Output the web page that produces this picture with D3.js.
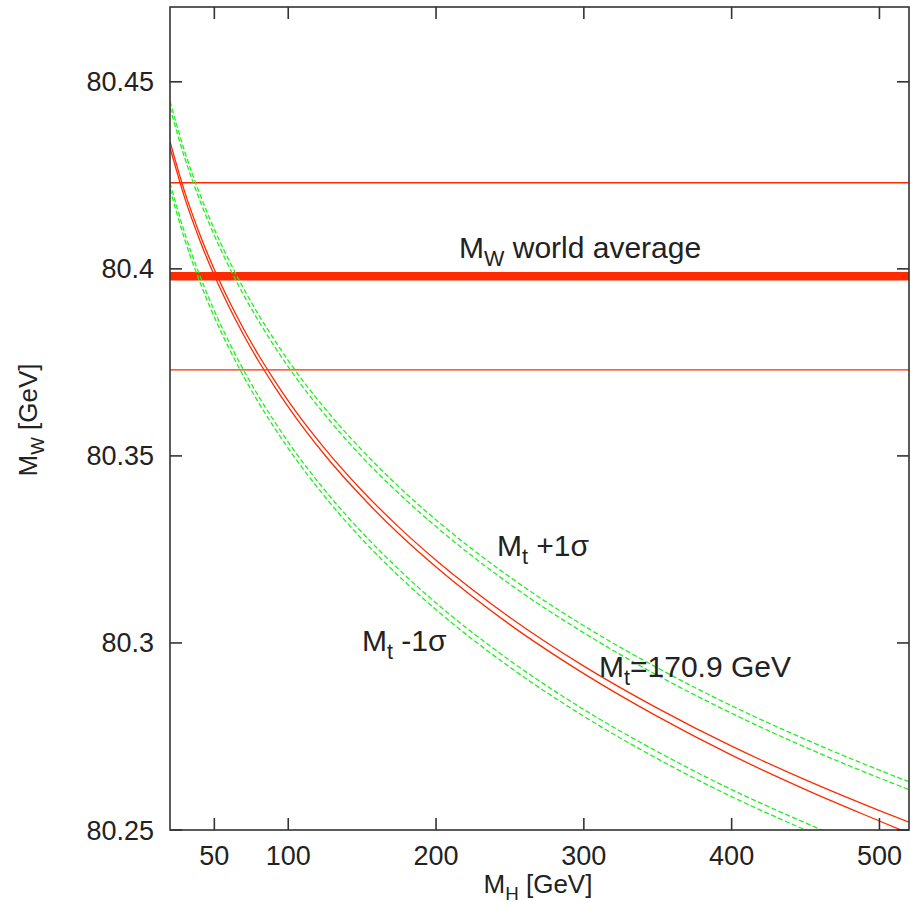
<!DOCTYPE html>
<html>
<head>
<meta charset="utf-8">
<script src="https://cdn.jsdelivr.net/npm/d3@7"></script>
<style>
  body { margin: 0; background: #fff; }
  svg { font-family: "Liberation Sans", Arial, sans-serif; }
</style>
</head>
<body>
<div id="chart"></div>
<script>
// Higgs mass (GeV) sample points along the curves
const MH = [20, 30, 40, 50, 60, 70, 80, 90, 100, 125, 150, 175, 200, 250, 300, 350, 400, 450, 500, 520];

// M_t = 170.9 GeV band (two red lines)
const MW_CENTRAL_HI = [80.4340, 80.4205, 80.4094, 80.3998, 80.3914, 80.3838, 80.3769, 80.3706, 80.3647, 80.3518,
                       80.3407, 80.3309, 80.3221, 80.3068, 80.2938, 80.2825, 80.2724, 80.2634, 80.2552, 80.2521];
const MW_CENTRAL_LO = [80.4324, 80.4189, 80.4078, 80.3982, 80.3898, 80.3822, 80.3753, 80.3690, 80.3631, 80.3501,
                       80.3390, 80.3291, 80.3203, 80.3049, 80.2918, 80.2803, 80.2700, 80.2608, 80.2524, 80.2491];

// M_t + 1 sigma (green dashed pair)
const MW_PLUS_HI = [80.4448, 80.4313, 80.4202, 80.4106, 80.4022, 80.3946, 80.3877, 80.3814, 80.3755, 80.3626,
                    80.3515, 80.3417, 80.3329, 80.3176, 80.3046, 80.2933, 80.2832, 80.2742, 80.2660, 80.2629];
const MW_PLUS_LO = [80.4431, 80.4296, 80.4185, 80.4089, 80.4005, 80.3929, 80.3860, 80.3797, 80.3738, 80.3609,
                    80.3497, 80.3399, 80.3311, 80.3157, 80.3027, 80.2913, 80.2812, 80.2721, 80.2639, 80.2608];

// M_t - 1 sigma (green dashed pair)
const MW_MINUS_HI = [80.4230, 80.4095, 80.3984, 80.3888, 80.3804, 80.3728, 80.3659, 80.3596, 80.3537, 80.3407,
                     80.3295, 80.3196, 80.3107, 80.2953, 80.2822, 80.2709, 80.2608, 80.2519, 80.2436, 80.2404];
const MW_MINUS_LO = [80.4213, 80.4078, 80.3967, 80.3871, 80.3787, 80.3711, 80.3642, 80.3579, 80.3520, 80.3390,
                     80.3277, 80.3178, 80.3089, 80.2935, 80.2804, 80.2690, 80.2589, 80.2500, 80.2417, 80.2385];

// world average of M_W and its error
const MW_AVG = 80.398;
const MW_ERR = 0.025;

const X_TICKS = [50, 100, 200, 300, 400, 500];
const Y_TICKS = [80.25, 80.3, 80.35, 80.4, 80.45];
const Y_TICK_LABELS = ['80.25', '80.3', '80.35', '80.4', '80.45'];

const W = 911, H = 908;
const margin = { top: 7, right: 2, bottom: 78, left: 170 };

const svg = d3.select('#chart').append('svg')
  .attr('width', W).attr('height', H);

const x = d3.scaleLinear().domain([20, 520]).range([margin.left, W - margin.right]);
const y = d3.scaleLinear().domain([80.25, 80.47]).range([H - margin.bottom, margin.top]);

const RED = '#ff2a00';
const GREEN = '#22f022';
const AXIS = '#333';

svg.append('clipPath').attr('id', 'clip')
  .append('rect')
  .attr('x', x(20)).attr('y', y(80.47))
  .attr('width', x(520) - x(20)).attr('height', y(80.25) - y(80.47));

const plot = svg.append('g').attr('clip-path', 'url(#clip)');

// horizontal lines: world average and +- 1 sigma
plot.append('line')
  .attr('x1', x(20)).attr('x2', x(520))
  .attr('y1', y(MW_AVG)).attr('y2', y(MW_AVG))
  .attr('stroke', RED).attr('stroke-width', 8.5);
[MW_AVG + MW_ERR, MW_AVG - MW_ERR].forEach(function (v) {
  plot.append('line')
    .attr('x1', x(20)).attr('x2', x(520))
    .attr('y1', y(v)).attr('y2', y(v))
    .attr('stroke', RED).attr('stroke-width', 1.4);
});

const line = d3.line()
  .x(function (d) { return x(d[0]); })
  .y(function (d) { return y(d[1]); })
  .curve(d3.curveMonotoneX);

const curves = [
  { vals: MW_PLUS_HI, color: GREEN, dash: '5,2.5' },
  { vals: MW_PLUS_LO, color: GREEN, dash: '5,2.5' },
  { vals: MW_MINUS_HI, color: GREEN, dash: '5,2.5' },
  { vals: MW_MINUS_LO, color: GREEN, dash: '5,2.5' },
  { vals: MW_CENTRAL_HI, color: RED, dash: null },
  { vals: MW_CENTRAL_LO, color: RED, dash: null }
];

curves.forEach(function (c) {
  plot.append('path')
    .datum(MH.map(function (m, i) { return [m, c.vals[i]]; }))
    .attr('d', line)
    .attr('fill', 'none')
    .attr('stroke', c.color)
    .attr('stroke-width', 1.3)
    .attr('stroke-dasharray', c.dash);
});

// frame with inward ticks on all sides
const frame = svg.append('g').attr('stroke', AXIS).attr('stroke-width', 1.6);
frame.append('rect')
  .attr('x', x(20)).attr('y', y(80.47))
  .attr('width', x(520) - x(20)).attr('height', y(80.25) - y(80.47))
  .attr('fill', 'none');
const TL = 12;
X_TICKS.forEach(function (t) {
  frame.append('line').attr('x1', x(t)).attr('x2', x(t))
    .attr('y1', y(80.25)).attr('y2', y(80.25) - TL);
  frame.append('line').attr('x1', x(t)).attr('x2', x(t))
    .attr('y1', y(80.47)).attr('y2', y(80.47) + TL);
});
Y_TICKS.forEach(function (t) {
  frame.append('line').attr('x1', x(20)).attr('x2', x(20) + TL)
    .attr('y1', y(t)).attr('y2', y(t));
  frame.append('line').attr('x1', x(520)).attr('x2', x(520) - TL)
    .attr('y1', y(t)).attr('y2', y(t));
});

// tick labels
svg.append('g').selectAll('text')
  .data(X_TICKS).enter().append('text')
  .attr('x', function (d) { return x(d); })
  .attr('y', 865)
  .attr('text-anchor', 'middle')
  .attr('font-size', 27)
  .attr('fill', '#222')
  .text(function (d) { return d; });

svg.append('g').selectAll('text')
  .data(Y_TICKS).enter().append('text')
  .attr('x', 154)
  .attr('y', function (d) { return y(d) + 9.5; })
  .attr('text-anchor', 'end')
  .attr('font-size', 27)
  .attr('fill', '#222')
  .text(function (d, i) { return Y_TICK_LABELS[i]; });

// text with a subscript: main, sub, rest
function subText(parent, main, sub, rest, size) {
  const t = parent.append('text').attr('font-size', size).attr('fill', '#222');
  t.append('tspan').text(main);
  t.append('tspan').attr('font-size', size * 0.72).attr('dy', size * 0.28).text(sub);
  t.append('tspan').attr('dy', -size * 0.28).text(rest);
  return t;
}

// axis titles
subText(svg, 'M', 'H', ' [GeV]', 26)
  .attr('x', 538).attr('y', 893).attr('text-anchor', 'middle');
subText(svg, 'M', 'W', ' [GeV]', 26)
  .attr('text-anchor', 'middle')
  .attr('transform', 'translate(37,420) rotate(-90)');

// in-plot annotations
subText(svg, 'M', 'W', ' world average', 30).attr('x', 459).attr('y', 258);
subText(svg, 'M', 't', ' +1\u03c3', 30).attr('x', 497).attr('y', 556);
subText(svg, 'M', 't', ' -1\u03c3', 30).attr('x', 362).attr('y', 651);
subText(svg, 'M', 't', '=170.9 GeV', 30).attr('x', 599).attr('y', 677);
</script>
</body>
</html>
